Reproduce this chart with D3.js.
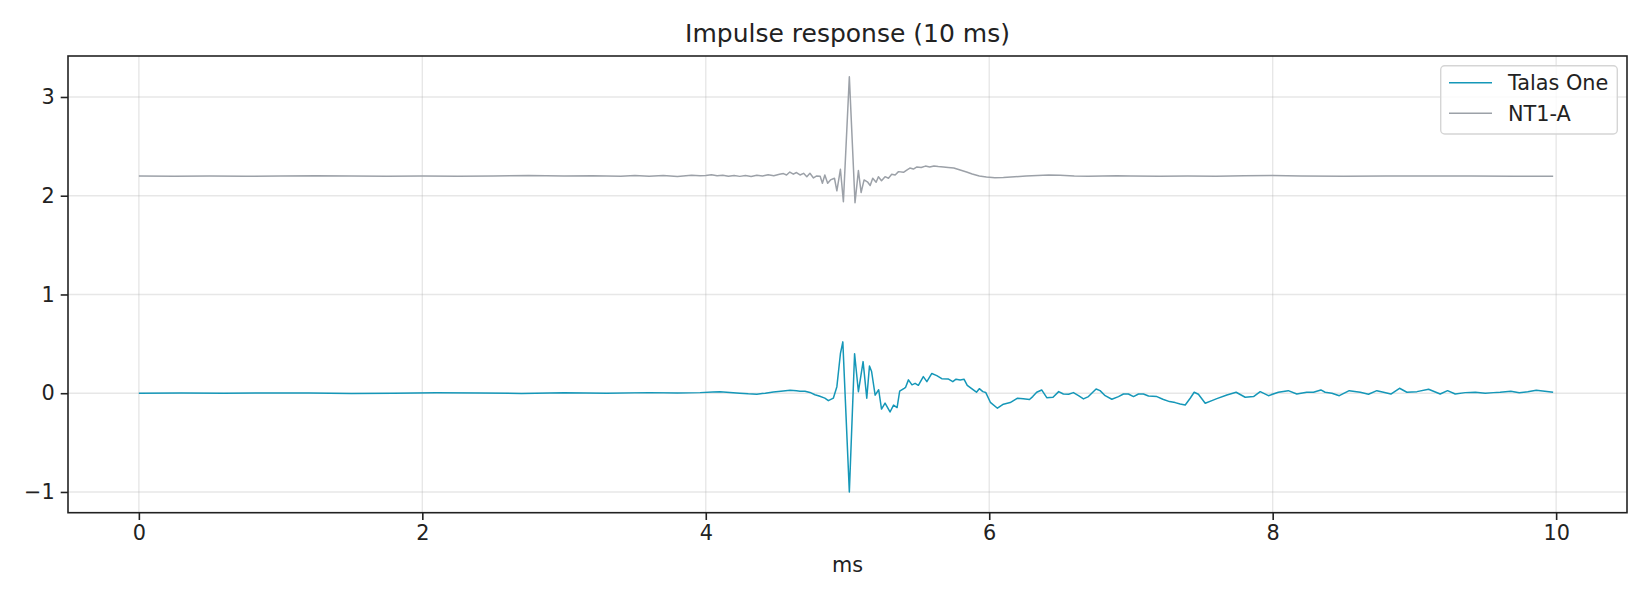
<!DOCTYPE html>
<html>
<head>
<meta charset="utf-8">
<script src="https://cdn.jsdelivr.net/npm/d3@7"></script>
<style>
  body { margin: 0; background: #fff; }
  svg { display: block; font-family: "DejaVu Sans", sans-serif; }
</style>
</head>
<body>
<div id="chart"></div>
<script>
// data (time in ms, amplitude)
const seriesNames = ["Talas One", "NT1-A"];
const seriesColors = ["#1597b8", "#9ca1a8"];

const talasT = [0, 0.3, 0.6, 0.9, 1.2, 1.5, 1.8, 2.1, 2.4, 2.7, 3.0, 3.3, 3.6, 3.8, 3.96,
  4.05, 4.10, 4.17, 4.24, 4.30, 4.36, 4.42, 4.477, 4.53, 4.595, 4.64, 4.665, 4.70, 4.735,
  4.77, 4.80, 4.84, 4.865, 4.90, 4.925, 4.95, 4.967, 5.013, 5.05, 5.077, 5.11, 5.136, 5.155,
  5.17, 5.195, 5.22, 5.24, 5.265, 5.30, 5.325, 5.35, 5.368, 5.40, 5.41, 5.43, 5.455, 5.477,
  5.50, 5.535, 5.56, 5.595, 5.63, 5.665, 5.71, 5.743, 5.766, 5.795, 5.822, 5.845, 5.888,
  5.91, 5.93, 5.955, 5.975, 6.008, 6.058, 6.10, 6.148, 6.20, 6.24, 6.284, 6.307, 6.335,
  6.37, 6.406, 6.45, 6.49, 6.523, 6.56, 6.594, 6.63, 6.665, 6.70, 6.754, 6.782, 6.818,
  6.865, 6.912, 6.947, 6.982, 7.018, 7.053, 7.088, 7.124, 7.183, 7.225, 7.272, 7.312,
  7.347, 7.383, 7.418, 7.446, 7.476, 7.524, 7.571, 7.606, 7.677, 7.742, 7.806, 7.865,
  7.912, 7.97, 8.04, 8.11, 8.17, 8.24, 8.288, 8.34, 8.37, 8.418, 8.47, 8.54, 8.618, 8.676,
  8.735, 8.782, 8.834, 8.895, 8.947, 9.018, 9.10, 9.182, 9.234, 9.288, 9.358, 9.43, 9.50,
  9.558, 9.605, 9.68, 9.74, 9.80, 9.86, 9.92, 9.979];
const talasV = [0, 0.002, 0, 0.003, 0.001, -0.002, 0, 0.004, 0.002, -0.002, 0.004, 0, 0.006, 0.002, 0.006,
  0.012, 0.016, 0.008, 0, -0.006, -0.01, 0, 0.013, 0.02, 0.03, 0.024, 0.021, 0.02, 0.008,
  -0.015, -0.028, -0.05, -0.075, -0.05, 0.066, 0.40, 0.52, -1.0, 0.40, 0.015, 0.32, -0.05, 0.275,
  0.22, -0.02, 0.035, -0.16, -0.10, -0.19, -0.12, -0.145, 0.02, 0.05, 0.06, 0.135, 0.085, 0.10,
  0.08, 0.168, 0.117, 0.20, 0.178, 0.147, 0.145, 0.117, 0.142, 0.134, 0.142, 0.08, 0.033,
  0.01, 0.046, 0.016, 0.008, -0.092, -0.152, -0.111, -0.095, -0.05, -0.055, -0.064, -0.034, 0.01,
  0.033, -0.045, -0.041, 0.016, -0.008, -0.01, 0.006, -0.025, -0.058, -0.034, 0.043, 0.026, -0.025,
  -0.061, -0.034, -0.008, -0.008, -0.034, -0.008, -0.008, -0.028, -0.034, -0.061, -0.085, -0.095,
  -0.109, -0.119, -0.051, 0.01, -0.01, -0.102, -0.075, -0.055, -0.018, 0.01, -0.041, -0.034,
  0.016, -0.025, 0.01, 0.026, -0.008, 0.01, 0.01, 0.033, 0.01, 0, -0.025, 0.026, 0.01, -0.01,
  0.026, 0.01, -0.008, 0.05, 0.01, 0.016, 0.04, -0.008, 0.026, -0.008, 0.006, 0.01, 0,
  0.006, 0.01, 0.02, 0.005, 0.015, 0.03, 0.02, 0.01];

const nt1T = [0, 0.25, 0.5, 0.75, 1.0, 1.25, 1.5, 1.75, 2.0, 2.25, 2.5, 2.75, 3.0, 3.2, 3.4,
  3.5, 3.6, 3.7, 3.8, 3.9, 3.96, 4.0, 4.04, 4.08, 4.12, 4.16, 4.2, 4.24, 4.28, 4.32, 4.36,
  4.40, 4.44, 4.48, 4.52, 4.548, 4.57, 4.593, 4.618, 4.64, 4.665, 4.69, 4.713, 4.735, 4.76,
  4.783, 4.807, 4.823, 4.84, 4.86, 4.88, 4.908, 4.925, 4.95, 4.971, 5.013, 5.053, 5.077,
  5.096, 5.117, 5.143, 5.16, 5.178, 5.202, 5.218, 5.24, 5.265, 5.289, 5.312, 5.336, 5.36,
  5.395, 5.418, 5.44, 5.465, 5.49, 5.52, 5.55, 5.58, 5.61, 5.64, 5.677, 5.71, 5.75, 5.795,
  5.84, 5.88, 5.93, 5.98, 6.04, 6.1, 6.18, 6.26, 6.34, 6.42, 6.5, 6.6, 6.7, 6.8, 6.9, 7.0,
  7.2, 7.4, 7.6, 7.8, 8.0, 8.2, 8.5, 8.8, 9.1, 9.4, 9.7, 9.979];
const nt1V = [2.2, 2.198, 2.2, 2.197, 2.199, 2.203, 2.199, 2.197, 2.2, 2.198, 2.201, 2.205, 2.199, 2.203, 2.197,
  2.205, 2.196, 2.204, 2.195, 2.207, 2.203, 2.206, 2.212, 2.203, 2.208, 2.198, 2.205, 2.196, 2.204, 2.195, 2.207,
  2.2, 2.212, 2.203, 2.218, 2.224, 2.21, 2.24, 2.218, 2.235, 2.21, 2.227, 2.193, 2.227, 2.18,
  2.20, 2.198, 2.126, 2.21, 2.126, 2.16, 2.177, 2.05, 2.268, 1.94, 3.205, 1.93, 2.255,
  2.033, 2.16, 2.137, 2.103, 2.177, 2.137, 2.193, 2.152, 2.193, 2.177, 2.217, 2.21, 2.244,
  2.237, 2.26, 2.28, 2.27, 2.292, 2.285, 2.3, 2.29, 2.302, 2.295, 2.29, 2.285, 2.28, 2.26,
  2.24, 2.22, 2.2, 2.19, 2.183, 2.185, 2.192, 2.2, 2.205, 2.21, 2.207, 2.2, 2.197, 2.2, 2.203, 2.2,
  2.197, 2.2, 2.198, 2.203, 2.205, 2.2, 2.198, 2.201, 2.199, 2.2, 2.198, 2.198];

const xTicks = [0, 2, 4, 6, 8, 10];
const yTicks = [-1, 0, 1, 2, 3];

// layout
const W = 1650, H = 600;
const m = { left: 68, right: 1627, top: 56, bottom: 512.7 };

const svg = d3.select("#chart").append("svg")
  .attr("width", W)
  .attr("height", H);

const x = d3.scaleLinear().domain([-0.5, 10.5]).range([m.left, m.right]);
const y = d3.scaleLinear().domain([-1.21, 3.415]).range([m.bottom, m.top]);

// grid
svg.append("g").selectAll("line").data(xTicks).enter().append("line")
  .attr("x1", d => x(d)).attr("x2", d => x(d))
  .attr("y1", m.top).attr("y2", m.bottom)
  .attr("stroke", "#b0b0b0").attr("stroke-opacity", 0.3).attr("stroke-width", 1.4);
svg.append("g").selectAll("line").data(yTicks).enter().append("line")
  .attr("x1", m.left).attr("x2", m.right)
  .attr("y1", d => y(d)).attr("y2", d => y(d))
  .attr("stroke", "#b0b0b0").attr("stroke-opacity", 0.3).attr("stroke-width", 1.4);

// lines
const series = [
  talasT.map((t, i) => [t, talasV[i]]),
  nt1T.map((t, i) => [t, nt1V[i]])
];
const line = d3.line().x(d => x(d[0])).y(d => y(d[1]));

svg.append("g").selectAll("path").data(series).enter().append("path")
  .attr("d", line)
  .attr("fill", "none")
  .attr("stroke", (d, i) => seriesColors[i])
  .attr("stroke-width", 1.5)
  .attr("stroke-linejoin", "round");

// axes
const xAxis = d3.axisBottom(x).tickValues(xTicks).tickSize(7.3).tickPadding(5);
const yAxis = d3.axisLeft(y).tickValues(yTicks).tickSize(7.3).tickPadding(6)
  .tickFormat(d3.format("d"));

const gx = svg.append("g")
  .attr("transform", "translate(0," + m.bottom + ")")
  .call(xAxis);
const gy = svg.append("g")
  .attr("transform", "translate(" + m.left + ",0)")
  .call(yAxis);

[gx, gy].forEach(g => {
  g.select(".domain").remove();
  g.selectAll(".tick line").attr("stroke", "#222").attr("stroke-width", 1.6);
  g.selectAll(".tick text")
    .attr("fill", "#222")
    .style("font-family", "DejaVu Sans")
    .style("font-size", "20.8px");
});

// frame
svg.append("rect")
  .attr("x", m.left).attr("y", m.top)
  .attr("width", m.right - m.left).attr("height", m.bottom - m.top)
  .attr("fill", "none").attr("stroke", "#222").attr("stroke-width", 1.6);

// title and label
svg.append("text")
  .attr("x", (m.left + m.right) / 2).attr("y", 42)
  .attr("text-anchor", "middle")
  .attr("fill", "#222")
  .style("font-size", "25px")
  .text("Impulse response (10 ms)");

svg.append("text")
  .attr("x", (m.left + m.right) / 2).attr("y", 572)
  .attr("text-anchor", "middle")
  .attr("fill", "#222")
  .style("font-size", "20.8px")
  .text("ms");

// legend
const legend = svg.append("g");
legend.append("rect")
  .attr("x", 1440.7).attr("y", 65.7)
  .attr("width", 176.6).attr("height", 68.3)
  .attr("rx", 4)
  .attr("fill", "#fff").attr("fill-opacity", 0.8)
  .attr("stroke", "#d5d5d5").attr("stroke-width", 1.4);

const items = legend.selectAll("g.item").data(seriesNames).enter().append("g")
  .attr("transform", (d, i) => "translate(0," + (82.7 + i * 30.6) + ")");
items.append("line")
  .attr("x1", 1449).attr("x2", 1492)
  .attr("stroke", (d, i) => seriesColors[i])
  .attr("stroke-width", 1.5);
items.append("text")
  .attr("x", 1508).attr("y", 7.5)
  .attr("fill", "#222")
  .style("font-size", "20.8px")
  .text(d => d);
</script>
</body>
</html>
